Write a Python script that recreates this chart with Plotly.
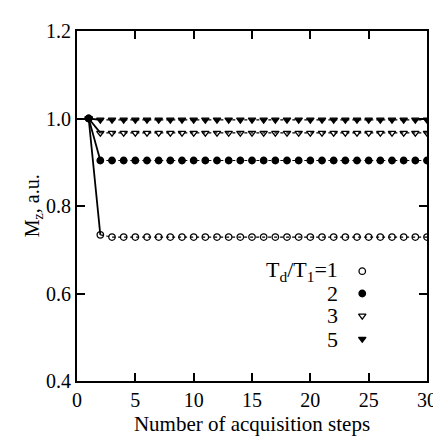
import plotly.graph_objects as go

steps = list(range(1, 31))
ratio_labels = ["1", "2", "3", "5"]
y_tick_vals = [0.4, 0.6, 0.8, 1.0, 1.2]
y_tick_text = ["0.4", "0.6", "0.8", "1.0", "1.2"]
x_tick_vals = [0, 5, 10, 15, 20, 25, 30]
m_ratio1 = [1.0, 0.734] + [0.729] * 28
m_ratio2 = [1.0] + [0.904] * 29
m_ratio3 = [1.0] + [0.967] * 29
m_ratio5 = [1.0] + [0.997] * 29
series = [m_ratio1, m_ratio2, m_ratio3, m_ratio5]
symbols = ["circle-open", "circle", "triangle-down-open", "triangle-down"]

# legend placement (data coords)
leg_marker_x = 24.45
leg_text_x = 22.5
leg_y = [0.651, 0.600, 0.549, 0.496]

FONT = "Liberation Serif, Times New Roman, serif"
fig = go.Figure()

for ys, sym in zip(series, symbols):
    fig.add_trace(go.Scatter(x=steps[:2], y=ys[:2], mode="lines",
                             line=dict(color="black", width=1.8),
                             showlegend=False, hoverinfo="skip"))
    fig.add_trace(go.Scatter(x=steps[1:], y=ys[1:], mode="lines",
                             line=dict(color="black", width=1.2, dash="dot"),
                             showlegend=False))
for ys, sym in zip(series, symbols):
    fig.add_trace(go.Scatter(x=steps, y=ys, mode="markers",
                             marker=dict(symbol=sym, size=6.5, color="black",
                                         line=dict(color="black", width=1.3)),
                             showlegend=False))

for i, (lab, sym, ly) in enumerate(zip(ratio_labels, symbols, leg_y)):
    fig.add_trace(go.Scatter(x=[leg_marker_x], y=[ly], mode="markers",
                             marker=dict(symbol=sym, size=6.5, color="black",
                                         line=dict(color="black", width=1.3)),
                             showlegend=False))
    text = ("T<sub>d</sub>/T<sub>1</sub>=" + lab) if i == 0 else lab
    fig.add_annotation(x=leg_text_x, y=ly, xref="x", yref="y", text=text,
                       showarrow=False, xanchor="right", yanchor="middle",
                       font=dict(family=FONT, size=22, color="black"))

# y-axis title as a rotated annotation
fig.add_annotation(x=-0.125, y=0.5, xref="paper", yref="paper",
                   text="M<sub>z</sub>, a.u.", textangle=-90, showarrow=False,
                   xanchor="center", yanchor="middle",
                   font=dict(family=FONT, size=20, color="black"))

axis_common = dict(showgrid=False, zeroline=False, showline=True,
                   linecolor="black", linewidth=2, mirror="ticks",
                   ticks="inside", ticklen=8, tickwidth=1.5, tickcolor="black",
                   tickfont=dict(family=FONT, size=20, color="black"))

fig.update_xaxes(range=[0, 30], tickvals=x_tick_vals,
                 title=dict(text="Number of acquisition steps",
                            font=dict(family=FONT, size=21, color="black"), standoff=6),
                 **axis_common)
fig.update_yaxes(range=[0.4, 1.2], tickvals=y_tick_vals, ticktext=y_tick_text,
                 **axis_common)

fig.update_layout(width=441, height=436,
                  margin=dict(l=69, r=12, t=15, b=61),
                  paper_bgcolor="white", plot_bgcolor="white",
                  font=dict(family=FONT, color="black"))

fig.write_html("out.html")
